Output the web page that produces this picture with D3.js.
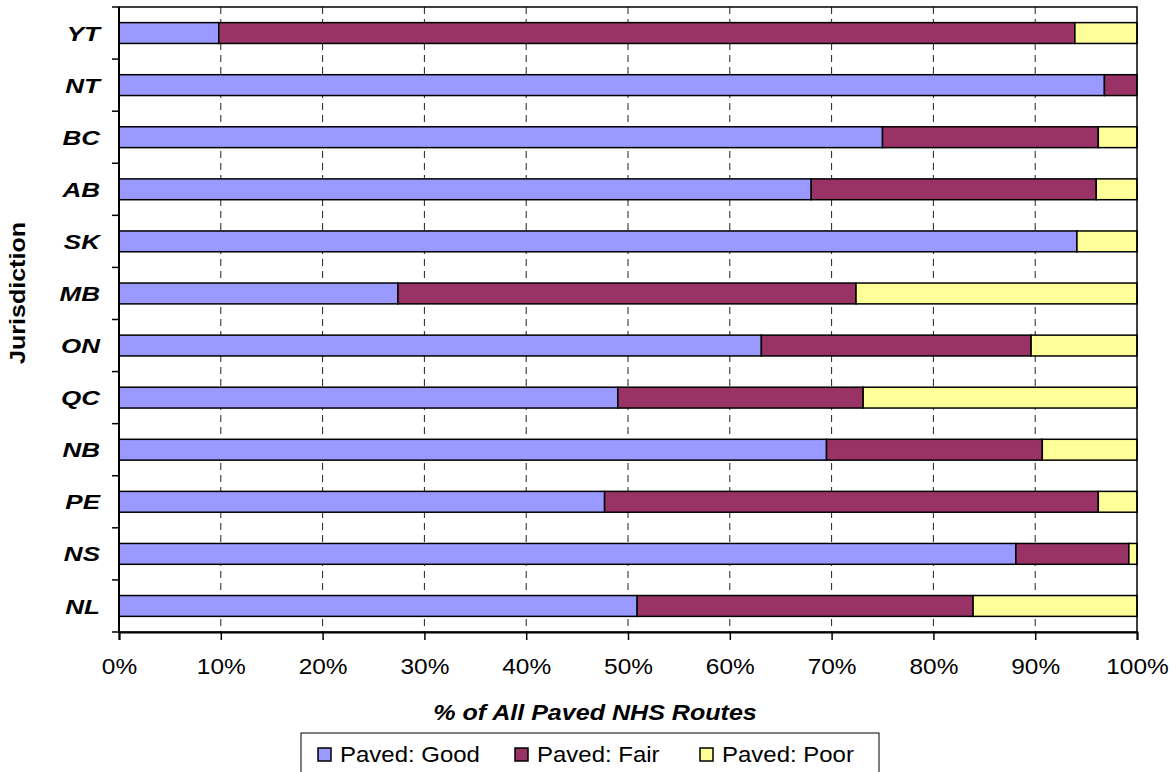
<!DOCTYPE html>
<html>
<head>
<meta charset="utf-8">
<script src="https://cdn.jsdelivr.net/npm/d3@7"></script>
<style>
  html, body { margin: 0; padding: 0; background: #fff; }
  svg { display: block; font-family: "Liberation Sans", Arial, sans-serif; }
</style>
</head>
<body>
<svg id="chart" width="1176" height="772"></svg>
<script>
// Jurisdictions, top to bottom
const jurisdictions = ["YT", "NT", "BC", "AB", "SK", "MB", "ON", "QC", "NB", "PE", "NS", "NL"];

// Share of paved NHS routes by condition (%)
const pavedGood = [9.8, 96.8, 75.0, 68.0, 94.1, 27.4, 63.1, 49.0, 69.5, 47.7, 88.1, 50.9];
const pavedFair = [84.1, 3.2, 21.2, 28.0, 0.0, 45.0, 26.5, 24.1, 21.2, 48.5, 11.1, 33.0];
const pavedPoor = [6.1, 0.0, 3.8, 4.0, 5.9, 27.6, 10.4, 26.9, 9.3, 3.8, 0.8, 16.1];

const seriesNames = ["Paved: Good", "Paved: Fair", "Paved: Poor"];
const seriesColors = ["#9999FF", "#993366", "#FFFF99"];
const xTicks = [0, 10, 20, 30, 40, 50, 60, 70, 80, 90, 100];

const rows = jurisdictions.map((j, i) => ({
  name: j,
  "Paved: Good": pavedGood[i],
  "Paved: Fair": pavedFair[i],
  "Paved: Poor": pavedPoor[i]
}));

const svg = d3.select("#chart");
const plot = { left: 119, top: 7, width: 1018, height: 625 };

const x = d3.scaleLinear().domain([0, 100]).range([0, plot.width]);
const y = d3.scaleBand().domain(jurisdictions).range([0, plot.height]).paddingInner(0.6).paddingOuter(0.3);
const color = d3.scaleOrdinal().domain(seriesNames).range(seriesColors);

const g = svg.append("g").attr("transform", `translate(${plot.left},${plot.top})`);

// Vertical dashed gridlines
g.append("g")
  .selectAll("line")
  .data(xTicks.filter(t => t > 0 && t < 100))
  .join("line")
  .attr("x1", d => x(d)).attr("x2", d => x(d))
  .attr("y1", 0).attr("y2", plot.height)
  .attr("stroke", "#222")
  .attr("stroke-width", 1)
  .attr("stroke-dasharray", "7,5");

// Stacked bars
const stacked = d3.stack().keys(seriesNames)(rows);
g.append("g")
  .selectAll("g")
  .data(stacked)
  .join("g")
  .attr("fill", d => color(d.key))
  .selectAll("rect")
  .data(d => d.filter(s => s[1] - s[0] > 0))
  .join("rect")
  .attr("x", d => x(d[0]))
  .attr("y", d => y(d.data.name))
  .attr("width", d => x(d[1]) - x(d[0]))
  .attr("height", y.bandwidth())
  .attr("stroke", "#000")
  .attr("stroke-width", 1.5);

// Plot frame
g.append("rect")
  .attr("x", 0).attr("y", 0)
  .attr("width", plot.width).attr("height", plot.height)
  .attr("fill", "none")
  .attr("stroke", "#000")
  .attr("stroke-width", 1.5);

// Y axis: ticks on category boundaries, labels centred on bands
const yAxis = g.append("g");
const bounds = d3.range(jurisdictions.length + 1).map(i => i * (plot.height / jurisdictions.length));
yAxis.selectAll("line.tick")
  .data(bounds)
  .join("line")
  .attr("class", "tick")
  .attr("x1", -7).attr("x2", 0)
  .attr("y1", d => d).attr("y2", d => d)
  .attr("stroke", "#000").attr("stroke-width", 1.5);
yAxis.append("line")
  .attr("x1", 0).attr("x2", 0).attr("y1", 0).attr("y2", plot.height)
  .attr("stroke", "#000").attr("stroke-width", 2);
yAxis.selectAll("text")
  .data(jurisdictions)
  .join("text")
  .attr("transform", d => `translate(-19,${y(d) + y.bandwidth() / 2}) scale(1.24,1)`)
  .attr("dy", "0.36em")
  .attr("text-anchor", "end")
  .attr("font-size", 21)
  .attr("font-weight", "bold")
  .attr("font-style", "italic")
  .text(d => d);

// X axis
const xAxis = g.append("g")
  .attr("transform", `translate(0,${plot.height})`)
  .call(d3.axisBottom(x).tickValues(xTicks).tickFormat(d => d + "%").tickSize(8).tickPadding(18));
xAxis.select(".domain").attr("stroke", "#000").attr("stroke-width", 2);
xAxis.selectAll(".tick line").attr("stroke", "#000").attr("stroke-width", 1.5);
xAxis.selectAll(".tick text")
  .attr("font-size", 22)
  .attr("transform", "scale(1.11,1)")
  .attr("font-family", "Liberation Sans, Arial, sans-serif")
  .attr("fill", "#000");

// Axis titles
svg.append("text")
  .attr("transform", "translate(595,720) scale(1.14,1)")
  .attr("text-anchor", "middle")
  .attr("font-size", 22)
  .attr("font-weight", "bold")
  .attr("font-style", "italic")
  .text("% of All Paved NHS Routes");

svg.append("text")
  .attr("transform", "translate(25,293) rotate(-90) scale(1.14,1)")
  .attr("text-anchor", "middle")
  .attr("font-size", 22)
  .attr("font-weight", "bold")
  .text("Jurisdiction");

// Legend
const legend = svg.append("g");
legend.append("rect")
  .attr("x", 301).attr("y", 733)
  .attr("width", 578).attr("height", 60)
  .attr("fill", "#fff")
  .attr("stroke", "#000")
  .attr("stroke-width", 1);
const legendX = [318, 515, 700];
const items = legend.selectAll("g.item")
  .data(seriesNames)
  .join("g")
  .attr("class", "item")
  .attr("transform", (d, i) => `translate(${legendX[i]},748)`);
items.append("rect")
  .attr("width", 13).attr("height", 13)
  .attr("fill", d => color(d))
  .attr("stroke", "#000").attr("stroke-width", 1.5);
items.append("text")
  .attr("transform", "translate(22,13.5) scale(1.09,1)")
  .attr("font-size", 22)
  .text(d => d);
</script>
</body>
</html>
